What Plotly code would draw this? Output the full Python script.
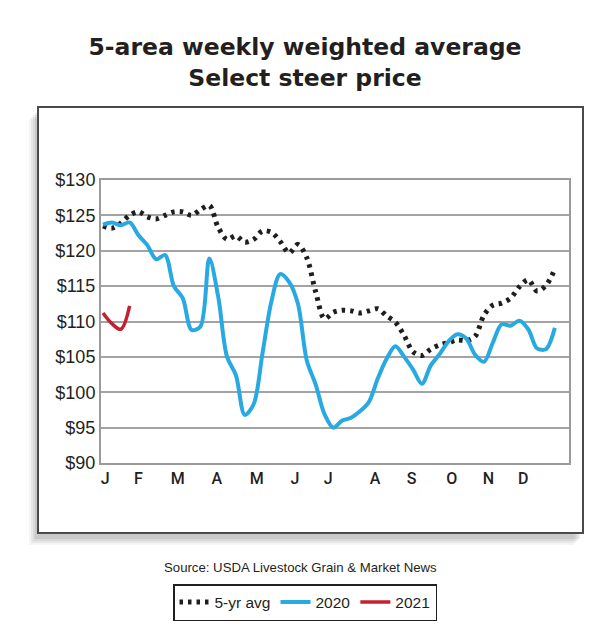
import plotly.graph_objects as go

# ---------------- data ----------------
weeks = list(range(1, 53))

avg5 = [123.5, 123.2, 123.9, 125.0, 125.5, 124.8, 124.5, 125.0, 125.5, 125.5,
        125.0, 125.8, 126.4, 123.3, 121.6, 122.1, 121.2, 121.6, 122.8, 122.6,
        121.3, 119.7, 120.9, 119.0, 114.2, 110.4, 111.3, 111.6, 111.5, 111.2,
        111.5, 111.8, 110.8, 109.9, 108.0, 105.7, 105.2, 106.1, 106.7, 107.0,
        107.4, 107.3, 107.9, 110.9, 112.3, 112.6, 113.3, 114.9, 115.9, 114.3,
        115.1, 117.4]

y2020 = [123.7, 124.0, 123.6, 124.0, 122.2, 120.8, 118.8, 119.4, 115.0, 113.3,
         108.8, 109.3, 118.9, 113.5, 105.0, 102.4, 96.8, 98.3, 105.5, 112.8,
         116.7, 115.6, 112.5, 104.5, 101.1, 96.9, 95.0, 96.0, 96.4, 97.3,
         98.6, 101.9, 104.7, 106.5, 105.0, 103.2, 101.2, 103.8, 105.4, 107.2,
         108.2, 107.6, 105.3, 104.3, 107.0, 109.6, 109.4, 110.1, 108.9, 106.2,
         106.1, 109.1]

weeks2021 = [1, 2, 3, 4]
y2021 = [111.2, 109.7, 108.9, 112.2]

month_labels = ["J", "F", "M", "A", "M", "J", "J", "A", "S", "O", "N", "D"]
month_pos = [1.23, 4.98, 9.43, 13.83, 18.35, 22.67, 26.43, 31.70, 35.84, 40.36, 44.49, 48.44]

y_ticks = [90, 95, 100, 105, 110, 115, 120, 125, 130]
y_labels = ["$%d" % v for v in y_ticks]

# ---------------- layout geometry ----------------
W, H = 610, 630
L, R, T, B = 101, 569, 180, 463


def px2paper(x, y):
    return (x - L) / (R - L), (B - y) / (B - T)


fig = go.Figure()

fig.add_trace(go.Scatter(
    x=weeks, y=avg5, name="5-yr avg", mode="lines",
    line=dict(color="#1e1e1e", width=5, dash="3.5px,5px", shape="spline", smoothing=0.9),
))
fig.add_trace(go.Scatter(
    x=weeks, y=y2020, name="2020", mode="lines",
    line=dict(color="#29a9e1", width=4, shape="spline", smoothing=0.9),
))
fig.add_trace(go.Scatter(
    x=weeks2021, y=y2021, name="2021", mode="lines",
    line=dict(color="#c42030", width=3.5, shape="spline", smoothing=1.0),
))

shapes = []
# shadow of outer box
for dx, dy, op in [(-9, 12, 0.06), (-7, 10, 0.08), (-5, 8, 0.10), (-3, 6, 0.12)]:
    x0, y0 = px2paper(38 + dx, 107 + dy)
    x1, y1 = px2paper(583 + dx, 533 + dy)
    shapes.append(dict(type="rect", xref="paper", yref="paper", x0=x0, y0=y0, x1=x1, y1=y1,
                       fillcolor="rgba(90,90,90,%f)" % op, line=dict(width=0), layer="below"))
x0, y0 = px2paper(38, 107)
x1, y1 = px2paper(583, 533)
shapes.append(dict(type="rect", xref="paper", yref="paper", x0=x0, y0=y0, x1=x1, y1=y1,
                   fillcolor="white", line=dict(color="#4a4a4a", width=2), layer="below"))

fig.update_layout(
    width=W, height=H,
    margin=dict(l=L, r=W - R, t=T, b=H - B),
    paper_bgcolor="white", plot_bgcolor="rgba(0,0,0,0)",
    shapes=shapes,
    title=dict(
        text="5-area weekly weighted average<br>Select steer price",
        x=0.5, xref="container", xanchor="center",
        y=1 - 55 / H, yref="container", yanchor="top",
        font=dict(family="DejaVu Sans", size=23.5, color="#231f20", weight="bold"),
    ),
    xaxis=dict(
        range=[0.77, 53.6], tickmode="array", tickvals=month_pos, ticktext=month_labels,
        showgrid=False, zeroline=False, showline=True, mirror=True,
        linecolor="#9b9b9b", linewidth=2, ticks="", ticklen=0,
        tickfont=dict(family="Roboto", size=16, color="#231f20", weight=500),
    ),
    yaxis=dict(
        range=[90, 130], tickmode="array", tickvals=y_ticks, ticktext=y_labels,
        showgrid=True, gridcolor="#a3a3a3", gridwidth=1.5, zeroline=False,
        showline=True, mirror=True, linecolor="#9b9b9b", linewidth=2, ticks="",
        tickfont=dict(family="Liberation Sans Narrow, Liberation Sans", size=18, color="#231f20"),
    ),
    legend=dict(
        orientation="h", xref="container", yref="container",
        x=0.5, xanchor="center", y=1 - 584 / H, yanchor="top",
        bordercolor="#231f20", borderwidth=1.5, bgcolor="white",
        font=dict(family="Liberation Sans Narrow, Liberation Sans", size=15.5, color="#231f20"),
        itemwidth=30,
    ),
    showlegend=True,
    annotations=[dict(
        text="Source: USDA Livestock Grain &amp; Market News",
        xref="paper", yref="paper", x=px2paper(300, 0)[0], y=px2paper(0, 567)[1],
        xanchor="center", yanchor="middle", showarrow=False,
        font=dict(family="Liberation Sans", size=13.2, color="#231f20"),
    )],
)

fig.write_html("out.html")
